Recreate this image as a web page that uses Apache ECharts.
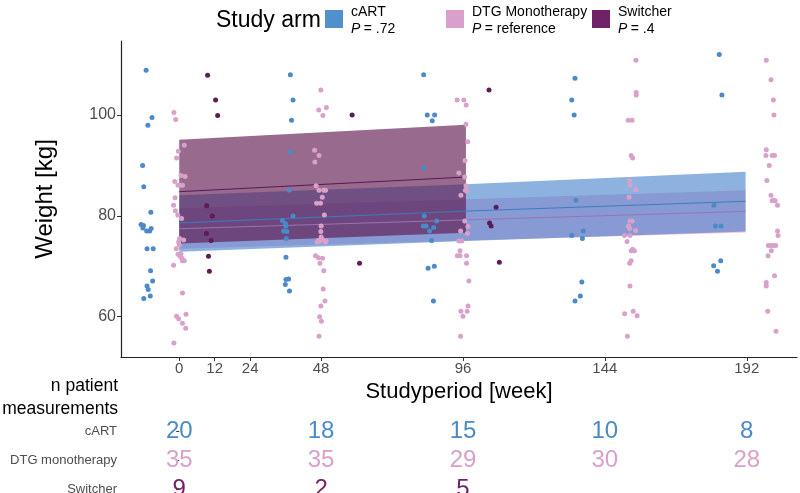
<!DOCTYPE html>
<html><head><meta charset="utf-8">
<script src="https://cdn.jsdelivr.net/npm/echarts@6/dist/echarts.min.js"></script>
<style>html,body{margin:0;padding:0;background:#fff}#c{width:800px;height:493px}</style>
</head><body><div id="c"></div>
<script>
// ---- data ----
const weekTicks = [0, 12, 24, 48, 96, 144, 192];
const weightTicks = [60, 80, 100];
const arms = ['cART', 'DTG monotherapy', 'Switcher'];
const legendNames = ['cART', 'DTG Monotherapy', 'Switcher'];
const legendP = ['.72', 'reference', '.4'];
const countWeeks = [0, 48, 96, 144, 192];
const cartCounts = [20, 18, 15, 10, 8];
const dtgCounts = [35, 35, 29, 30, 28];
const switcherCounts = [9, 2, 5];

const cartPoints = [
 [-11.2,108.9],[-9.2,99.5],[-10.6,98.0],[-12.4,90.0],[-12.0,85.8],[-9.6,80.7],[-12.9,78.3],[-12.1,78.1],[-12.3,77.6],[-11.0,77.0],
 [-10.0,77.0],[-9.5,77.5],[-10.9,73.5],[-8.8,73.5],[-9.7,69.1],[-9.0,67.1],[-10.9,66.1],[-10.5,65.4],[-9.8,64.1],[-12.0,63.6],
 [37.6,108.0],[38.5,103.0],[38.0,99.0],[37.6,92.7],[37.2,85.1],[38.5,80.0],[34.9,79.1],[35.9,78.5],[36.1,78.0],[35.7,77.0],
 [36.4,76.9],[36.2,75.5],[36.1,71.8],[36.1,67.4],[37.0,67.5],[35.9,66.4],[37.3,65.1],[35.3,77.0],
 [82.7,108.0],[83.9,100.0],[86.4,100.0],[85.6,98.9],[82.9,89.6],[82.9,80.0],[82.6,78.0],[83.5,78.0],[86.1,77.7],[87.1,79.0],
 [84.7,77.0],[85.4,75.1],[84.2,69.6],[86.3,70.0],[86.0,63.1],
 [133.9,107.3],[132.8,103.0],[133.6,100.0],[134.2,83.1],[136.7,77.0],[132.8,76.1],[136.4,75.5],[136.2,66.9],[135.7,64.1],[133.9,63.1],
 [182.7,112.0],[183.6,104.0],[180.9,82.1],[181.4,78.0],[183.3,78.0],[183.2,71.1],[180.8,70.1],[182.1,69.0]
];
const dtgPoints = [
 [-1.8,100.5],[-1.2,99.1],[1.7,94.0],[-0.3,92.8],[-0.9,91.5],[0.6,88.0],[2.0,87.8],[-0.4,86.1],[0.3,86.1],[1.1,86.1],
 [-1.5,86.8],[-1.4,83.6],[-1.9,82.1],[-1.3,81.0],[-0.5,80.2],[0.8,79.5],[0.1,75.5],[-1.0,73.5],[0.0,74.2],[-0.4,72.4],
 [0.3,72.0],[0.9,71.6],[1.7,71.1],[1.1,71.1],[-1.9,70.2],[0.6,72.5],[1.1,64.7],[-0.9,60.1],[-0.2,59.6],[2.3,60.5],
 [1.1,58.7],[2.2,57.7],[-1.8,54.8],[-0.2,74.8],[1.5,75.2],
 [47.9,105.0],[47.2,101.0],[49.8,101.5],[48.6,99.9],[45.8,93.0],[47.3,92.0],[45.9,90.7],[46.3,86.0],[47.3,85.1],[48.9,85.1],
 [49.5,85.1],[48.4,83.7],[46.5,82.5],[47.8,82.5],[49.1,80.2],[48.0,78.0],[47.9,76.9],[48.0,75.8],[47.0,75.1],[47.5,74.9],
 [48.5,75.3],[49.4,74.8],[49.7,75.0],[46.1,72.1],[47.1,71.7],[48.5,71.6],[47.6,70.6],[48.9,69.1],[48.7,65.5],[49.3,63.1],
 [47.9,62.1],[47.5,60.0],[48.1,59.1],[47.3,56.1],[46.7,74.8],
 [94.0,103.0],[96.3,103.0],[97.1,102.0],[97.0,98.2],[97.6,94.7],[96.7,91.0],[94.6,88.5],[96.6,87.7],[97.0,86.0],[96.8,85.1],
 [97.3,84.9],[95.3,84.1],[96.6,79.0],[97.7,77.9],[95.2,77.0],[97.5,76.5],[94.6,75.0],[95.6,75.0],[95.0,73.1],[94.1,72.1],
 [95.0,72.1],[97.2,72.1],[97.2,70.6],[98.0,67.1],[97.7,62.1],[95.3,61.1],[97.4,61.1],[96.0,60.1],[95.2,56.1],
 [154.5,110.9],[154.6,104.5],[154.6,104.0],[151.9,99.0],[153.2,99.0],[152.9,92.0],[153.4,91.5],[152.3,87.0],[152.5,86.1],[154.5,85.2],
 [152.2,83.7],[152.5,79.0],[153.2,79.0],[152.0,78.0],[152.4,77.5],[154.4,77.1],[150.6,76.1],[152.5,76.1],[151.5,74.9],[152.9,73.1],
 [154.0,73.1],[152.9,71.1],[152.4,70.6],[152.5,66.1],[150.7,60.6],[153.6,61.1],[154.9,60.2],[151.6,56.1],[152.1,77.9],[153.4,73.4],
 [198.6,110.9],[200.2,107.0],[201.0,103.0],[201.2,100.0],[198.6,93.1],[198.5,92.0],[200.6,92.0],[201.4,92.0],[199.6,90.0],[198.8,87.0],
 [200.2,84.1],[201.0,83.1],[201.6,83.0],[202.4,82.1],[202.4,77.0],[202.6,76.1],[199.3,74.1],[200.2,74.1],[201.0,74.1],[201.8,74.1],
 [200.3,73.1],[199.2,72.1],[201.4,68.1],[198.6,66.8],[198.6,66.1],[199.1,61.1],[201.9,57.1],[200.6,83.0]
];
const switcherPoints = [
 [9.6,107.9],[12.3,103.0],[13.0,99.9],[9.3,82.0],[11.2,80.0],[9.2,76.5],[10.8,75.1],[9.9,72.0],[10.2,69.0],
 [58.5,100.0],[61.0,70.6],
 [104.8,105.0],[107.2,81.7],[105.0,78.6],[105.5,78.0],[108.3,70.8]
];

// model fits with confidence bands
const cartBandWeeks = [0, 97, 191.6];
const cartLower = [72.9, 75.0, 76.9];
const cartFit = [78.6, 80.95, 82.9];
const cartUpper = [84.1, 86.3, 88.75];
const dtgBandWeeks = [0, 97, 191.6];
const dtgLower = [73.5, 75.1, 76.7];
const dtgFit = [77.45, 79.2, 80.9];
const dtgUpper = [81.5, 83.3, 85.1];
const swBandWeeks = [0, 97];
const swLower = [74.5, 76.65];
const swFit = [84.8, 87.7];
const swUpper = [95.1, 98.1];

// ---- styling ----
const colCart = '#4a8ac6', colDtg = '#d9a1c9', colSw = '#5e1c55';
const keyCart = '#4f90cd', keyDtg = '#daa0cc', keySw = '#6f2268';
const FONT = 'Liberation Sans, Arial, sans-serif';

function ribbon(weeks, lo, up, color, opacity, z) {
  return {
    type: 'custom', xAxisIndex: 0, yAxisIndex: 0, z: z, silent: true,
    data: [[weeks[0], lo[0]]],
    renderItem: function (params, api) {
      const pts = [];
      for (let i = 0; i < weeks.length; i++) pts.push(api.coord([weeks[i], up[i]]));
      for (let i = weeks.length - 1; i >= 0; i--) pts.push(api.coord([weeks[i], lo[i]]));
      return { type: 'polygon', shape: { points: pts }, style: { fill: color, opacity: opacity } };
    }
  };
}
function fitLine(weeks, fit, color, z) {
  return {
    type: 'line', xAxisIndex: 0, yAxisIndex: 0, z: z, silent: true, showSymbol: false,
    data: weeks.map((w, i) => [w, fit[i]]), lineStyle: { color: color, width: 1 }
  };
}
function scatter(points, color) {
  return {
    type: 'scatter', xAxisIndex: 0, yAxisIndex: 0, z: 8, silent: true,
    symbolSize: 5, data: points, itemStyle: { color: color, opacity: 1 }
  };
}
function counts(arm, vals, color) {
  return {
    type: 'scatter', xAxisIndex: 1, yAxisIndex: 1, silent: true, symbolSize: 1,
    data: vals.map((v, i) => [countWeeks[i], arm, v]),
    itemStyle: { color: 'rgba(0,0,0,0)', opacity: 1 },
    label: { show: true, position: 'inside', formatter: p => String(p.value[2]),
      color: color, opacity: 1, fontSize: 24, fontFamily: FONT }
  };
}

const legendX = [325, 446, 592];
const legendKeys = [keyCart, keyDtg, keySw];
const graphics = [
  { type: 'text', left: 216, top: 9, style: { text: 'Study arm', fontSize: 23, fontFamily: FONT, fill: '#000' } },
  { type: 'text', x: 118, y: 375, style: { text: 'n patient\nmeasurements', fontSize: 17.5, lineHeight: 23, fontFamily: FONT, fill: '#000', align: 'right', verticalAlign: 'top' } }
];
legendX.forEach((x, i) => {
  graphics.push({ type: 'rect', shape: { x: x, y: 10, width: 18, height: 18 }, style: { fill: legendKeys[i] } });
  graphics.push({ type: 'text', left: x + 26, top: 5, style: {
    text: '{n|' + legendNames[i] + '}\n{p|P} {n|= ' + legendP[i] + '}',
    rich: { n: { fontSize: 14, fontFamily: FONT, fill: '#000', lineHeight: 17 },
            p: { fontSize: 14, fontFamily: FONT, fill: '#000', fontStyle: 'italic', lineHeight: 17 } } } });
});

const chart = echarts.init(document.getElementById('c'), null, { renderer: 'canvas' });
chart.setOption({
  animation: false,
  textStyle: { fontFamily: FONT },
  grid: [
    { left: 121, right: 3, top: 41, bottom: 136, containLabel: false, outerBoundsMode: 'none' },
    { left: 121, right: 3, top: 417, height: 87, containLabel: false, outerBoundsMode: 'none' }
  ],
  xAxis: [
    { type: 'value', gridIndex: 0, min: -19.7, max: 209,
      name: 'Studyperiod [week]', nameLocation: 'middle', nameGap: 20,
      nameTextStyle: { fontSize: 22, color: '#000', fontFamily: FONT },
      axisLine: { show: true, onZero: false, lineStyle: { color: '#222', width: 1.2 } },
      axisTick: { show: true, length: 4, lineStyle: { color: '#333' }, customValues: weekTicks },
      axisLabel: { customValues: weekTicks, fontSize: 15, color: '#4d4d4d', margin: 4, fontFamily: FONT },
      splitLine: { show: false } },
    { type: 'value', gridIndex: 1, min: -19.7, max: 209, show: false }
  ],
  yAxis: [
    { type: 'value', gridIndex: 0, min: 52, max: 114.7,
      name: 'Weight [kg]', nameLocation: 'middle', nameGap: 64,
      nameTextStyle: { fontSize: 24, color: '#000', fontFamily: FONT },
      axisLine: { show: true, onZero: false, lineStyle: { color: '#222', width: 1.2 } },
      axisTick: { show: true, length: 4, lineStyle: { color: '#333' }, customValues: weightTicks },
      axisLabel: { customValues: weightTicks, fontSize: 16, color: '#4d4d4d', margin: 5, fontFamily: FONT },
      splitLine: { show: false } },
    { type: 'category', gridIndex: 1, data: arms, inverse: true,
      axisLine: { show: false },
      axisTick: { show: true, length: 3, alignWithLabel: true, lineStyle: { color: '#333' } },
      axisLabel: { fontSize: 13, color: '#4d4d4d', margin: 4, fontFamily: FONT },
      splitLine: { show: false } }
  ],
  graphic: graphics,
  series: [
    scatter(cartPoints, colCart),
    scatter(dtgPoints, colDtg),
    scatter(switcherPoints, colSw),
    ribbon(dtgBandWeeks, dtgLower, dtgUpper, '#e077b3', 0.45, 2),
    ribbon(cartBandWeeks, cartLower, cartUpper, '#4783cd', 0.62, 3),
    ribbon(swBandWeeks, swLower, swUpper, '#611a51', 0.65, 4),
    fitLine(cartBandWeeks, cartFit, '#3a7cc0', 5),
    fitLine(dtgBandWeeks, dtgFit, '#9a72b0', 5),
    fitLine(swBandWeeks, swFit, '#5a1650', 5),
    counts('cART', cartCounts, colCart),
    counts('DTG monotherapy', dtgCounts, colDtg),
    counts('Switcher', switcherCounts, '#6f2268')
  ]
});
</script></body></html>
